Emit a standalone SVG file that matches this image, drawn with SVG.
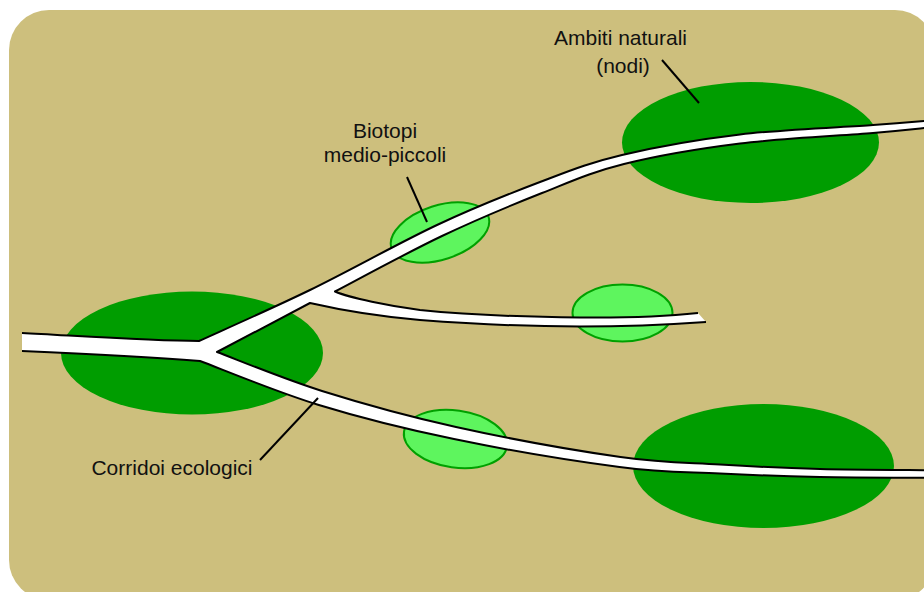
<svg xmlns="http://www.w3.org/2000/svg" width="924" height="592" viewBox="0 0 924 592">
<style>
.bg{fill:#cdbf7d}
.big{fill:#009d00}
.small{fill:#5ef55e;stroke:#00a000;stroke-width:2}
.cw{fill:#ffffff;stroke:none}
.ce{fill:none;stroke:#000;stroke-width:2;stroke-linejoin:round;stroke-linecap:butt}
.lead{fill:none;stroke:#000;stroke-width:2}
.lbl{font-family:"Liberation Sans",Arial,sans-serif;font-size:21px;fill:#111;text-anchor:middle}
</style>
<rect class="bg" x="9" y="10" width="926" height="590" rx="40" ry="40"/>
<g id="node-left"><ellipse class="big" cx="192" cy="353" rx="131" ry="61.5"/></g>
<g id="node-topright"><ellipse class="big" cx="750.5" cy="142.5" rx="128.5" ry="60.5"/></g>
<g id="node-bottomright"><ellipse class="big" cx="763.5" cy="466" rx="130.5" ry="62"/></g>
<g id="biotope-upper"><ellipse class="small" cx="440" cy="232.5" rx="51" ry="27" transform="rotate(-18 440 232.5)"/></g>
<g id="biotope-middle"><ellipse class="small" cx="622.5" cy="313" rx="50" ry="28.5"/></g>
<g id="biotope-lower"><ellipse class="small" cx="455.5" cy="439" rx="52" ry="28.5" transform="rotate(8 455.5 439)"/></g>
<g id="connectors">
<path class="cw" d="M22,333 C80,336 150,341 199,341 C217.5,332.5 270.3,309.3 310,290 C349.7,270.7 398.7,243 437,225 C475.3,207 509.2,193.7 540,182 C570.8,170.3 588.7,162.9 622,155 C655.3,147.1 698.2,139.5 740,134.5 C781.8,129.5 841.3,127.3 873,125 C904.7,122.7 920.5,121.25 930,120.5 L930,127.5 C920.5,128.4 904.7,130.3 873,133 C841.3,135.7 781.5,138.3 740,143.5 C698.5,148.7 657,155.75 624,164 C591,172.25 572.3,181 542,193 C511.7,205 476.5,219.6 442,236 C407.5,252.4 352.8,282.25 335,291.5 C350,298 390,306 420,310 C460,314 520,317 580,317.5 C630,318 670,316 698,313 L706,322 C670,324.5 630,326.5 580,326.5 C520,326.5 460,323 420,320 C385,317 345,311 310,303 L217,352 C234.5,358.5 282.2,378.5 322,391 C361.8,403.5 406.25,416 456,427 C505.75,438 576.5,450.75 620.5,457 C664.5,463.25 686.75,462.5 720,464.5 C753.25,466.5 785,468.05 820,469 C855,469.95 911.7,470 930,470.2 L930,477.8 C911.7,477.67 855,477.7 820,477 C785,476.3 753.4,475.2 720,473.5 C686.6,471.8 663.8,472.75 619.5,467 C575.2,461.25 504.25,449.4 454,439 C403.75,428.6 360.3,417.7 318,404.7 C275.7,391.7 219.7,368.3 200,361 C150,357 80,353.5 22,351 Z"/>
<path class="ce" d="M22,333 C80,336 150,341 199,341 C217.5,332.5 270.3,309.3 310,290 C349.7,270.7 398.7,243 437,225 C475.3,207 509.2,193.7 540,182 C570.8,170.3 588.7,162.9 622,155 C655.3,147.1 698.2,139.5 740,134.5 C781.8,129.5 841.3,127.3 873,125 C904.7,122.7 920.5,121.25 930,120.5"/>
<path class="ce" d="M930,127.5 C920.5,128.4 904.7,130.3 873,133 C841.3,135.7 781.5,138.3 740,143.5 C698.5,148.7 657,155.75 624,164 C591,172.25 572.3,181 542,193 C511.7,205 476.5,219.6 442,236 C407.5,252.4 352.8,282.25 335,291.5 C350,298 390,306 420,310 C460,314 520,317 580,317.5 C630,318 670,316 698,313"/>
<path class="ce" d="M706,322 C670,324.5 630,326.5 580,326.5 C520,326.5 460,323 420,320 C385,317 345,311 310,303 L217,352 C234.5,358.5 282.2,378.5 322,391 C361.8,403.5 406.25,416 456,427 C505.75,438 576.5,450.75 620.5,457 C664.5,463.25 686.75,462.5 720,464.5 C753.25,466.5 785,468.05 820,469 C855,469.950 911.7,470 930,470.2"/>
<path class="ce" d="M930,477.8 C911.7,477.67 855,477.7 820,477 C785,476.3 753.4,475.2 720,473.5 C686.6,471.8 663.8,472.75 619.5,467 C575.2,461.25 504.25,449.4 454,439 C403.75,428.6 360.3,417.7 318,404.7 C275.7,391.7 219.7,368.3 200,361 C150,357 80,353.5 22,351"/>
</g>
<g id="label-ambiti">
<line class="lead" x1="662" y1="60" x2="699" y2="103"/>
<text class="lbl" x="620.5" y="45">Ambiti naturali</text>
<text class="lbl" x="623" y="73">(nodi)</text>
</g>
<g id="label-biotopi">
<line class="lead" x1="407" y1="177" x2="427" y2="222"/>
<text class="lbl" x="385" y="138">Biotopi</text>
<text class="lbl" x="385" y="162">medio-piccoli</text>
</g>
<g id="label-corridoi">
<line class="lead" x1="260" y1="460" x2="318" y2="398"/>
<text class="lbl" x="172" y="475">Corridoi ecologici</text>
</g>
</svg>
